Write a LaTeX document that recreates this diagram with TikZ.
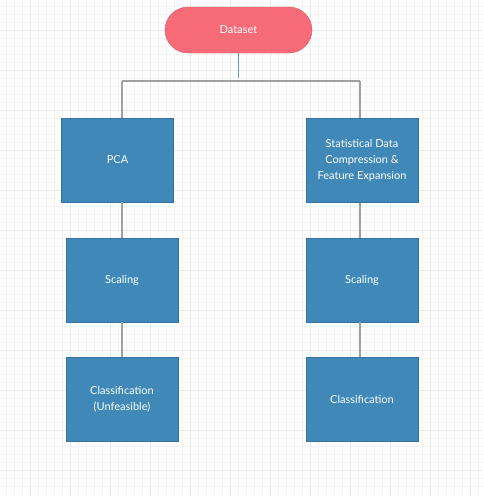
\documentclass[tikz,border=0pt]{standalone}
\usepackage{fontspec}
\setmainfont{Lato}
\usepackage{xcolor}
\usetikzlibrary{calc}

\definecolor{datared}{HTML}{F76B78}
\definecolor{stepblue}{HTML}{3F88B8}
\definecolor{stepedge}{HTML}{35739E}
\definecolor{linkgray}{HTML}{A0A0A0}
\definecolor{gridminor}{HTML}{F3F3F3}
\definecolor{gridmajor}{HTML}{EAEAEA}

\tikzset{
  stepbox/.style={draw=stepedge, fill=stepblue, text=white, minimum width=112pt,
    minimum height=84pt, inner sep=0pt, align=center,
    font=\fontsize{11}{16}\selectfont},
  startbox/.style={draw=datared!85!black, fill=datared, text=white, rounded corners=23pt,
    minimum width=147pt, minimum height=46pt, inner sep=0pt,
    font=\fontsize{11}{13}\selectfont},
  link/.style={draw=linkgray, line width=1.3pt},
}

\begin{document}
\begin{tikzpicture}[x=1pt, y=-1pt]
    \useasboundingbox (0,0) rectangle (483,496);
    \fill[white] (0,0) rectangle (483,496);

    % Background grid
    \foreach \g in {0,...,60} {
        \draw[gridminor, line width=0.7pt] ({6.7+8*\g},0) -- ({6.7+8*\g},496);
        \draw[gridminor, line width=0.7pt] (0,{6.7+8*\g}) -- (483,{6.7+8*\g});
    }
    \foreach \g in {0,...,12} {
        \draw[gridmajor, line width=0.7pt] ({30.7+40*\g},0) -- ({30.7+40*\g},496);
        \draw[gridmajor, line width=0.7pt] (0,{30.7+40*\g}) -- (483,{30.7+40*\g});
    }

    % Start
    \node[startbox] (dataset) at (238.5,30) {Dataset};

    % Left branch
    \node[stepbox] (pca) at (117.5,160) {PCA};
    \node[stepbox] (scaleL) at (122,280) {Scaling};
    \node[stepbox] (classL) at (122,399.5) {Classification\\(Unfeasible)};

    % Right branch
    \node[stepbox] (stat) at (362,160.5) {Statistical Data\\Compression \&\\Feature Expansion};
    \node[stepbox] (scaleR) at (362,280) {Scaling};
    \node[stepbox] (classR) at (362,399.5) {Classification};

    % Split point
    \coordinate (stub) at (238.5,78);
    \coordinate (splitL) at (122,81);
    \coordinate (splitR) at (360,81);

    \draw[link] (splitL) -- (splitR);
    \draw[link] (splitL) -- (splitL |- pca.north);
    \draw[link] (splitR) -- (splitR |- stat.north);
    \draw[draw=stepblue!85!white, line width=1.8pt] (dataset.south) -- (stub);

    \draw[link] (pca.south -| scaleL) -- (scaleL.north);
    \draw[link] (scaleL.south) -- (classL.north);
    \draw[link] (stat.south -| splitR) -- (scaleR.north -| splitR);
    \draw[link] (scaleR.south -| splitR) -- (classR.north -| splitR);
\end{tikzpicture}
\end{document}
